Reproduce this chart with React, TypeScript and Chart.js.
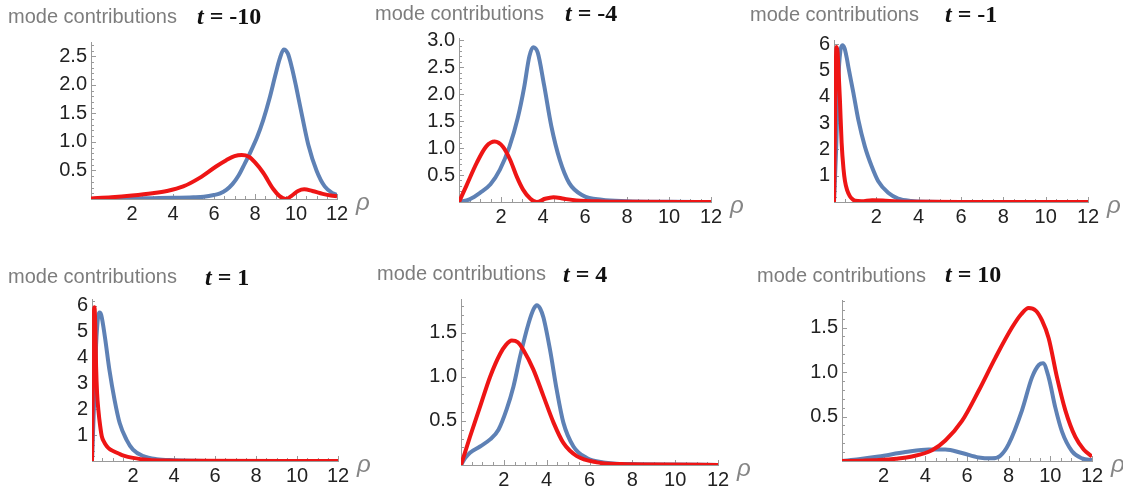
import React, { useEffect, useRef } from 'react';
import { Chart, registerables } from 'chart.js';

Chart.register(...registerables);

// ---------------- data ----------------
// t = -10
const rhoBlueM10 = [0, 1, 2, 3, 4, 5, 5.5, 6, 6.3, 6.6, 6.9, 7.2, 7.5, 7.8, 8.1, 8.4, 8.7, 9.0, 9.2, 9.4, 9.6, 9.8, 10.0, 10.3, 10.6, 11.0, 11.4, 11.8, 12];
const blueM10 = [0, 0.005, 0.01, 0.015, 0.02, 0.03, 0.04, 0.07, 0.1, 0.16, 0.26, 0.41, 0.62, 0.84, 1.08, 1.38, 1.75, 2.18, 2.45, 2.62, 2.55, 2.3, 1.98, 1.45, 0.95, 0.5, 0.22, 0.1, 0.07];
const rhoRedM10 = [0, 1, 2, 3, 3.7, 4.5, 5.3, 6.1, 6.6, 7.0, 7.35, 7.7, 8.0, 8.4, 8.9, 9.2, 9.5, 9.8, 10.1, 10.4, 10.8, 11.3, 11.7, 12];
const redM10 = [0.01, 0.03, 0.06, 0.1, 0.14, 0.22, 0.37, 0.57, 0.68, 0.75, 0.77, 0.74, 0.64, 0.46, 0.17, 0.05, 0.0, 0.06, 0.14, 0.17, 0.14, 0.09, 0.06, 0.05];

// t = -4
const rhoBlueM4 = [0, 0.5, 1.0, 1.5, 1.95, 2.4, 2.8, 3.1, 3.35, 3.53, 3.75, 4.05, 4.4, 4.8, 5.25, 5.9, 6.8, 8, 10, 12];
const blueM4 = [0, 0.05, 0.17, 0.33, 0.6, 1.02, 1.56, 2.12, 2.7, 2.87, 2.77, 2.17, 1.4, 0.78, 0.35, 0.12, 0.04, 0.015, 0.005, 0];
const rhoRedM4 = [0, 0.35, 0.85, 1.3, 1.7, 2.1, 2.45, 2.75, 3.05, 3.4, 3.7, 4.1, 4.5, 5.0, 5.6, 6.8, 8, 12];
const redM4 = [0, 0.3, 0.73, 1.03, 1.12, 1.02, 0.77, 0.47, 0.23, 0.06, 0.0, 0.06, 0.09, 0.06, 0.03, 0.01, 0.005, 0];

// t = -1
const rhoBlueM1 = [0, 0.1, 0.2, 0.3, 0.4, 0.5, 0.6, 0.68, 0.92, 1.15, 1.46, 1.78, 2.09, 2.56, 3.03, 3.66, 4.5, 6, 8, 10, 12];
const blueM1 = [0, 2.0, 4.6, 5.75, 5.97, 5.85, 5.5, 5.14, 4.14, 3.13, 2.11, 1.36, 0.79, 0.35, 0.13, 0.04, 0.01, 0, 0, 0, 0];
const rhoRedM1 = [0, 0.04, 0.08, 0.12, 0.17, 0.22, 0.28, 0.36, 0.45, 0.52, 0.62, 0.75, 0.9, 1.0, 1.3, 1.8, 2.3, 3, 4, 6, 12];
const redM1 = [0, 2.6, 5.0, 5.9, 5.7, 4.9, 3.88, 2.25, 1.25, 0.79, 0.45, 0.22, 0.09, 0.05, 0.03, 0.07, 0.06, 0.02, 0.01, 0, 0];

// t = 1
const rhoBlueP1 = [0, 0.1, 0.2, 0.3, 0.37, 0.45, 0.63, 0.85, 1.1, 1.35, 1.68, 2.0, 2.5, 3.15, 4.0, 5, 6, 8, 10, 12];
const blueP1 = [0, 2.2, 4.5, 5.6, 5.75, 5.65, 4.8, 3.52, 2.37, 1.47, 0.83, 0.44, 0.19, 0.07, 0.03, 0.01, 0, 0, 0, 0];
const rhoRedP1 = [0, 0.04, 0.08, 0.12, 0.16, 0.2, 0.25, 0.31, 0.4, 0.48, 0.6, 0.72, 0.88, 1.05, 1.3, 1.54, 2.0, 2.8, 3.5, 5, 12];
const redP1 = [0, 3.0, 5.4, 5.95, 5.2, 3.65, 2.6, 1.98, 1.35, 0.95, 0.72, 0.57, 0.45, 0.38, 0.29, 0.21, 0.12, 0.04, 0.02, 0.005, 0];

// t = 4
const rhoBlueP4 = [0, 0.2, 0.42, 0.89, 1.36, 1.75, 2.13, 2.45, 2.76, 3.15, 3.4, 3.54, 3.7, 3.85, 4.16, 4.47, 4.78, 5.25, 5.87, 6.65, 8, 10, 12];
const blueP4 = [0, 0.08, 0.14, 0.21, 0.29, 0.4, 0.63, 0.89, 1.23, 1.6, 1.77, 1.81, 1.77, 1.67, 1.3, 0.85, 0.48, 0.21, 0.08, 0.03, 0.01, 0.005, 0];
const rhoRedP4 = [0, 0.42, 0.89, 1.36, 1.83, 2.1, 2.37, 2.65, 2.92, 3.38, 3.85, 4.32, 4.78, 5.41, 6.34, 7.5, 9, 12];
const redP4 = [0, 0.32, 0.66, 1.0, 1.26, 1.36, 1.41, 1.39, 1.3, 1.08, 0.78, 0.48, 0.25, 0.1, 0.03, 0.01, 0.005, 0];

// t = 10
const rhoBlueP10 = [0, 0.8, 1.76, 3.04, 4.16, 4.96, 5.76, 6.56, 7.2, 7.6, 8.0, 8.64, 9.12, 9.45, 9.65, 9.92, 10.24, 10.56, 11.04, 11.52, 12];
const blueP10 = [0, 0.02, 0.05, 0.1, 0.13, 0.13, 0.09, 0.04, 0.03, 0.06, 0.19, 0.57, 0.94, 1.08, 1.1, 0.94, 0.6, 0.33, 0.11, 0.03, 0.01];
const rhoRedP10 = [0, 1, 1.76, 2.6, 3.36, 4.32, 4.96, 5.76, 6.56, 7.36, 8.16, 8.6, 8.96, 9.3, 9.6, 9.92, 10.32, 10.72, 11.2, 11.6, 12];
const redP10 = [0, 0.004, 0.01, 0.025, 0.05, 0.12, 0.23, 0.45, 0.79, 1.16, 1.5, 1.65, 1.72, 1.69, 1.58, 1.38, 0.94, 0.57, 0.27, 0.13, 0.05];

// tick labels
const xTickValues = [2, 4, 6, 8, 10, 12];
const yTicksM10 = [0.5, 1, 1.5, 2, 2.5];
const yTicksM4 = [0.5, 1, 1.5, 2, 2.5, 3];
const yTicksM1 = [1, 2, 3, 4, 5, 6];
const yTicksP1 = [1, 2, 3, 4, 5, 6];
const yTicksP4 = [0.5, 1, 1.5];
const yTicksP10 = [0.5, 1, 1.5];

const tLabels = ['-10', '-4', '-1', '1', '4', '10'];
const yMaxes = [2.75, 3.04, 6.17, 6.27, 1.88, 1.81];

// ---------------- styling / layout ----------------
const BLUE = '#5e81b5';
const RED = '#ee1515';
const AXIS = '#9a9a9a';
const LABEL = '#222222';
const PL = 60, PT = 15, PR = 40, PB = 35;

type Geom = { axisX: number; axisY: number; x12: number; yTop: number; modeX: number; modeBase: number; tX: number; tBase: number };

type Spec = {
  t: string; yMax: number; yTicks: number[]; decimals: number; yMinor: number;
  blueX: number[]; blueY: number[]; redX: number[]; redY: number[]; g: Geom;
};

const specs: Spec[] = [
  { t: tLabels[0], yMax: yMaxes[0], yTicks: yTicksM10, decimals: 1, yMinor: 0.1, blueX: rhoBlueM10, blueY: blueM10, redX: rhoRedM10, redY: redM10,
    g: { axisX: 91, axisY: 199, x12: 337, yTop: 41, modeX: 8, modeBase: 23, tX: 197, tBase: 24 } },
  { t: tLabels[1], yMax: yMaxes[1], yTicks: yTicksM4, decimals: 1, yMinor: 0.1, blueX: rhoBlueM4, blueY: blueM4, redX: rhoRedM4, redY: redM4,
    g: { axisX: 459, axisY: 202, x12: 711, yTop: 37, modeX: 375, modeBase: 20, tX: 565, tBase: 21 } },
  { t: tLabels[2], yMax: yMaxes[2], yTicks: yTicksM1, decimals: 0, yMinor: 0.2, blueX: rhoBlueM1, blueY: blueM1, redX: rhoRedM1, redY: redM1,
    g: { axisX: 834, axisY: 202, x12: 1088, yTop: 39, modeX: 750, modeBase: 21, tX: 945, tBase: 22 } },
  { t: tLabels[3], yMax: yMaxes[3], yTicks: yTicksP1, decimals: 0, yMinor: 0.2, blueX: rhoBlueP1, blueY: blueP1, redX: rhoRedP1, redY: redP1,
    g: { axisX: 92, axisY: 461, x12: 338, yTop: 298, modeX: 8, modeBase: 283, tX: 205, tBase: 285 } },
  { t: tLabels[4], yMax: yMaxes[4], yTicks: yTicksP4, decimals: 1, yMinor: 0.1, blueX: rhoBlueP4, blueY: blueP4, redX: rhoRedP4, redY: redP4,
    g: { axisX: 461, axisY: 465, x12: 718, yTop: 298, modeX: 377, modeBase: 280, tX: 563, tBase: 282 } },
  { t: tLabels[5], yMax: yMaxes[5], yTicks: yTicksP10, decimals: 1, yMinor: 0.1, blueX: rhoBlueP10, blueY: blueP10, redX: rhoRedP10, redY: redP10,
    g: { axisX: 842, axisY: 461, x12: 1092, yTop: 299, modeX: 757, modeBase: 282, tX: 945, tBase: 282 } },
];

const pts = (xs: number[], ys: number[]) => xs.map((x, i) => ({ x, y: ys[i] }));

function makeTickPlugin(yMinor: number, yMax: number) {
  return {
    id: 'mmaTicks',
    beforeDatasetsDraw(chart: any) {
      const { ctx, chartArea, scales } = chart;
      const xs = scales.x, ys = scales.y;
      ctx.save();
      ctx.strokeStyle = AXIS;
      ctx.lineWidth = 1;
      ctx.beginPath();
      for (let k = 1; k <= 24; k++) {
        const px = Math.round(xs.getPixelForValue(k * 0.5)) + 0.5;
        const len = k % 4 === 0 ? 5 : 3;
        ctx.moveTo(px, chartArea.bottom);
        ctx.lineTo(px, chartArea.bottom - len);
      }
      for (let k = 1; k * yMinor <= yMax + 1e-9; k++) {
        const py = Math.round(ys.getPixelForValue(k * yMinor)) + 0.5;
        const len = k % 5 === 0 ? 5 : 3;
        ctx.moveTo(chartArea.left, py);
        ctx.lineTo(chartArea.left + len, py);
      }
      ctx.stroke();
      ctx.restore();
    },
  };
}

function Panel({ spec }: { spec: Spec }) {
  const ref = useRef<HTMLCanvasElement>(null);
  const g = spec.g;
  const w = g.x12 - g.axisX + PL + PR;
  const h = g.axisY - g.yTop + PT + PB;

  useEffect(() => {
    if (!ref.current) return;
    const tickFont = { family: '"Liberation Sans", Arial, sans-serif', size: 20 };
    const chart = new Chart(ref.current, {
      type: 'line',
      data: {
        datasets: [
          { data: pts(spec.redX, spec.redY), borderColor: RED, borderWidth: 4, pointRadius: 0, cubicInterpolationMode: 'monotone', fill: false, borderJoinStyle: 'round' },
          { data: pts(spec.blueX, spec.blueY), borderColor: BLUE, borderWidth: 4, pointRadius: 0, cubicInterpolationMode: 'monotone', fill: false, borderJoinStyle: 'round' },
        ],
      } as any,
      options: {
        animation: false,
        responsive: false,
        maintainAspectRatio: false,
        devicePixelRatio: 1,
        events: [],
        layout: { padding: { top: PT, right: PR, left: 0, bottom: 0 } },
        plugins: { legend: { display: false }, tooltip: { enabled: false }, title: { display: false } },
        scales: {
          x: {
            type: 'linear', min: 0, max: 12,
            grid: { display: false, drawTicks: false },
            border: { display: true, color: AXIS, width: 1 },
            afterFit: (s: any) => { s.height = PB; },
            afterBuildTicks: (s: any) => { s.ticks = xTickValues.map((v) => ({ value: v })); },
            ticks: { autoSkip: false, maxRotation: 0, padding: 3, color: LABEL, font: tickFont, callback: (v: any) => String(v) },
          },
          y: {
            type: 'linear', min: 0, max: spec.yMax,
            grid: { display: false, drawTicks: false },
            border: { display: true, color: AXIS, width: 1 },
            afterFit: (s: any) => { s.width = PL; },
            afterBuildTicks: (s: any) => { s.ticks = spec.yTicks.map((v) => ({ value: v })); },
            ticks: { autoSkip: false, padding: 4, color: LABEL, font: tickFont, callback: (v: any) => Number(v).toFixed(spec.decimals) },
          },
        },
      } as any,
      plugins: [makeTickPlugin(spec.yMinor, spec.yMax)],
    });
    return () => chart.destroy();
  }, []);

  return (
    <>
      <canvas ref={ref} width={w} height={h}
        style={{ position: 'absolute', left: g.axisX - PL, top: g.yTop - PT, width: w, height: h }} />
      <div style={{ position: 'absolute', left: g.modeX, top: g.modeBase - 16.9, fontFamily: '"Liberation Sans", Arial, sans-serif', fontSize: 20, lineHeight: 1, color: '#7d7d7d', whiteSpace: 'nowrap' }}>
        mode contributions
      </div>
      <div style={{ position: 'absolute', left: g.tX, top: g.tBase - 20.1, fontFamily: '"Liberation Serif", "Times New Roman", serif', fontSize: 24, fontWeight: 'bold', lineHeight: 1, color: '#111', whiteSpace: 'pre' }}>
        <span style={{ fontStyle: 'italic' }}>t</span>{' = ' + spec.t}
      </div>
      <div style={{ position: 'absolute', left: g.x12 + 19, top: g.axisY - 9, fontFamily: '"Liberation Sans", Arial, sans-serif', fontSize: 24, fontStyle: 'italic', lineHeight: 1, color: '#858585' }}>
        ρ
      </div>
    </>
  );
}

export default function App() {
  return (
    <div style={{ position: 'absolute', left: 0, top: 0, width: 1123, height: 495, background: '#fff', overflow: 'hidden' }}>
      {specs.map((s, i) => <Panel key={i} spec={s} />)}
    </div>
  );
}
